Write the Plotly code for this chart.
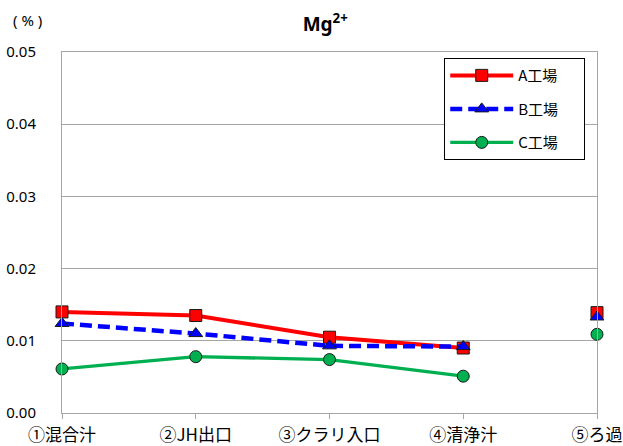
import plotly.graph_objects as go

categories = ["①混合汁", "②JH出口", "③クラリ入口", "④清浄汁", "⑤ろ過"]
series_names = ["A工場", "B工場", "C工場"]
a_values = [0.0140, 0.0135, 0.0105, 0.0090, 0.0139]
b_values = [0.0124, 0.0110, 0.0093, 0.0092, 0.0133]
c_values = [0.0061, 0.0078, 0.0074, 0.0051, 0.0109]
y_ticks = [0.00, 0.01, 0.02, 0.03, 0.04, 0.05]
y_ticklabels = ["0.00", "0.01", "0.02", "0.03", "0.04", "0.05"]

FONT = "Noto Sans CJK JP, Noto Sans, sans-serif"
xpos = list(range(len(categories)))

styles = [
    dict(color="#FF0000", width=4, dash="solid", symbol="square", msize=12),
    dict(color="#0000FF", width=4.5, dash="12px,6px", symbol="triangle-up", msize=12),
    dict(color="#00B050", width=3.3, dash="solid", symbol="circle", msize=12),
]

PAD = "\u00a0" * 6

fig = go.Figure()
for name, vals, st in zip(series_names, [a_values, b_values, c_values], styles):
    marker = dict(symbol=st["symbol"], size=st["msize"], color=st["color"],
                  line=dict(color="#1a1a1a", width=1))
    # connected part (first four categories)
    fig.add_trace(go.Scatter(
        x=xpos[:4], y=vals[:4], name=name + PAD, mode="lines+markers",
        line=dict(color=st["color"], width=st["width"], dash=st["dash"]),
        marker=marker, legendgroup=name, cliponaxis=False,
    ))
    # isolated last point
    fig.add_trace(go.Scatter(
        x=xpos[4:], y=vals[4:], name=name, mode="markers",
        marker=marker, legendgroup=name, showlegend=False, cliponaxis=False,
    ))

fig.update_layout(
    width=623, height=446,
    margin=dict(l=62, r=26, t=52, b=33),
    paper_bgcolor="white", plot_bgcolor="white",
    font=dict(family=FONT, size=14, color="black"),
    title=dict(text="<b>Mg<sup>2+</sup></b>", x=0.522, xanchor="center",
               y=0.945, yanchor="middle",
               font=dict(family="Noto Sans, Arial, sans-serif", size=19, color="black")),
    showlegend=True,
    legend=dict(
        x=0.978, y=0.983, xanchor="right", yanchor="top",
        bgcolor="white", bordercolor="black", borderwidth=1,
        font=dict(family=FONT, size=15, color="black"),
        traceorder="grouped", tracegroupgap=11,
        itemwidth=63,
    ),
    xaxis=dict(
        range=[0, 4], tickmode="array", tickvals=xpos, ticktext=categories,
        showgrid=False, zeroline=False, automargin=False,
        showline=True, linecolor="#A6A6A6", linewidth=1, mirror=True,
        ticks="outside", ticklen=5, tickcolor="#A6A6A6",
        tickfont=dict(family=FONT, size=17, color="black"),
        ticklabelstandoff=2,
    ),
    yaxis=dict(
        range=[0, 0.05], tickmode="array", tickvals=y_ticks, ticktext=y_ticklabels,
        showgrid=True, gridcolor="#A6A6A6", gridwidth=1, zeroline=False,
        automargin=False,
        showline=True, linecolor="#A6A6A6", linewidth=1, mirror=True,
        ticks="", tickfont=dict(family="Noto Sans, Arial, sans-serif", size=15, color="black"),
        ticklabelstandoff=22,
    ),
)

fig.add_annotation(text="( % )", xref="paper", yref="paper", x=-0.0654, y=1.089,
                   xanchor="center", yanchor="middle", showarrow=False,
                   font=dict(family="Noto Sans, sans-serif", size=15, color="black"))

fig.write_html("out.html", config={"displayModeBar": False},
               post_script="document.body.style.margin='0';document.body.style.overflow='hidden';")
